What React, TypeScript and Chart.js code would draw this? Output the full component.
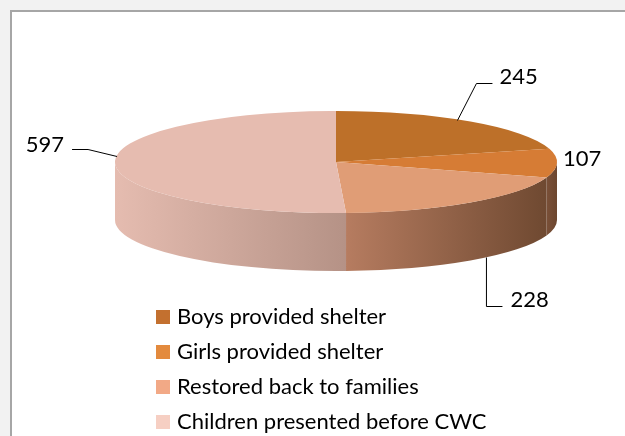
import React, { useEffect, useRef } from "react";
import { Chart, registerables } from "chart.js";

Chart.register(...registerables);

const categories = [
  "Boys provided shelter",
  "Girls provided shelter",
  "Restored back to families",
  "Children presented before CWC",
];
const values = [245, 107, 228, 597];
const valueLabels = ["245", "107", "228", "597"];
const topColors = ["#bd7029", "#d67c35", "#e09d76", "#e6bcb0"];
const legendColors = ["#c3702f", "#e38a3d", "#f2a986", "#f6cfc3"];
const sideLight = ["#a0602a", "#7a5038", "#b67c60", "#e5bcb0"];
const sideDark = ["#8a5020", "#6c462f", "#6f4931", "#b59286"];

// ellipse geometry of the tilted pie
const CX = 336;
const CY = 162;
const RX = 221;
const RY = 51;
const DEPTH = 58;

// label layout: anchor type, leader points (offsets from anchor), text offset, align
const labelLayout = [
  { bottom: false, pts: [[-13, -2], [6, -39], [22, -39]], text: [29, -38], align: "left" },
  { bottom: false, pts: [], text: [6, 3], align: "left" },
  { bottom: true, pts: [[16, -3], [16, 45.5], [32, 45.5]], text: [40, 46.5], align: "left" },
  { bottom: false, pts: [[2, -7], [-27, -14], [-43, -14]], text: [-51, -11.5], align: "right" },
];

const pie3d = {
  id: "pie3d",
  beforeDraw(chart: any) {
    const { ctx, width, height } = chart;
    ctx.save();
    ctx.fillStyle = "#f2f2f2";
    ctx.fillRect(0, 0, width, height);
    ctx.fillStyle = "#a6a6a6";
    ctx.fillRect(10, 10, width, 2);
    ctx.fillRect(10, 10, 2, height);
    ctx.fillStyle = "#ffffff";
    ctx.fillRect(12, 12, width, height);
    ctx.restore();
  },
  beforeDatasetsDraw(chart: any) {
    const { ctx } = chart;
    const meta = chart.getDatasetMeta(0);
    const arcs = meta.data;
    ctx.save();
    arcs.forEach((el: any, i: number) => {
      const a1 = Math.max(el.startAngle, 0);
      const a2 = Math.min(el.endAngle, Math.PI);
      if (a2 <= a1) return;
      const xr = CX + RX * Math.cos(a1);
      const xl = CX + RX * Math.cos(a2);
      const g = ctx.createLinearGradient(xl, 0, xr, 0);
      g.addColorStop(0, sideLight[i]);
      g.addColorStop(1, sideDark[i]);
      ctx.beginPath();
      ctx.moveTo(CX + RX * Math.cos(a1), CY + RY * Math.sin(a1));
      ctx.ellipse(CX, CY, RX, RY, 0, a1, a2, false);
      ctx.lineTo(CX + RX * Math.cos(a2), CY + DEPTH + RY * Math.sin(a2));
      ctx.ellipse(CX, CY + DEPTH, RX, RY, 0, a2, a1, true);
      ctx.closePath();
      ctx.fillStyle = g;
      ctx.fill();
    });
    ctx.restore();
    const a0 = arcs[0];
    const r = a0.outerRadius;
    ctx.save();
    ctx.translate(CX, CY);
    ctx.scale(RX / r, RY / r);
    ctx.translate(-a0.x, -a0.y);
  },
  afterDatasetsDraw(chart: any) {
    chart.ctx.restore();
  },
  afterDraw(chart: any) {
    const { ctx } = chart;
    const arcs = chart.getDatasetMeta(0).data;
    ctx.save();
    ctx.strokeStyle = "#000000";
    ctx.lineWidth = 1;
    ctx.fillStyle = "#000000";
    ctx.font = "22px Lato";
    ctx.textBaseline = "alphabetic";
    arcs.forEach((el: any, i: number) => {
      const mid = (el.startAngle + el.endAngle) / 2;
      const L = labelLayout[i];
      const px = CX + RX * Math.cos(mid);
      const py = CY + RY * Math.sin(mid) + (L.bottom ? DEPTH : 0);
      if (L.pts.length) {
        ctx.beginPath();
        L.pts.forEach((p, k) => {
          const x = px + p[0];
          const y = Math.round(py + p[1]) + 0.5;
          if (k === 0) ctx.moveTo(x, y);
          else ctx.lineTo(x, y);
        });
        ctx.stroke();
      }
      ctx.textAlign = L.align as CanvasTextAlign;
      ctx.fillText(valueLabels[i], px + L.text[0], py + L.text[1]);
    });
    ctx.restore();
  },
};

export default function App() {
  const ref = useRef<HTMLCanvasElement>(null);
  useEffect(() => {
    const chart = new Chart(ref.current as HTMLCanvasElement, {
      type: "pie",
      data: {
        labels: categories,
        datasets: [
          {
            data: values,
            backgroundColor: topColors,
            borderWidth: 0,
            hoverOffset: 0,
            clip: false,
          } as any,
        ],
      },
      options: {
        animation: false,
        responsive: false,
        events: [],
        layout: { padding: { left: 147, top: 0, right: 118, bottom: 27 } },
        plugins: {
          tooltip: { enabled: false },
          legend: {
            position: "bottom",
            align: "start",
            labels: {
              font: { family: "Lato", size: 22 },
              color: "#000000",
              boxWidth: 6,
              boxHeight: 6,
              padding: 13,
              generateLabels: () =>
                categories.map((t, i) => ({
                  text: t,
                  fillStyle: legendColors[i],
                  strokeStyle: legendColors[i],
                  lineWidth: 8,
                  hidden: false,
                  index: i,
                  fontColor: "#000000",
                })),
            },
          },
        },
      } as any,
      plugins: [pie3d],
    });
    return () => chart.destroy();
  }, []);
  return (
    <div
      style={{
        position: "fixed",
        left: 0,
        top: 0,
        width: 625,
        height: 436,
        overflow: "hidden",
        background: "#f2f2f2",
      }}
    >
      <canvas ref={ref} width={625} height={470} style={{ display: "block" }} />
    </div>
  );
}
